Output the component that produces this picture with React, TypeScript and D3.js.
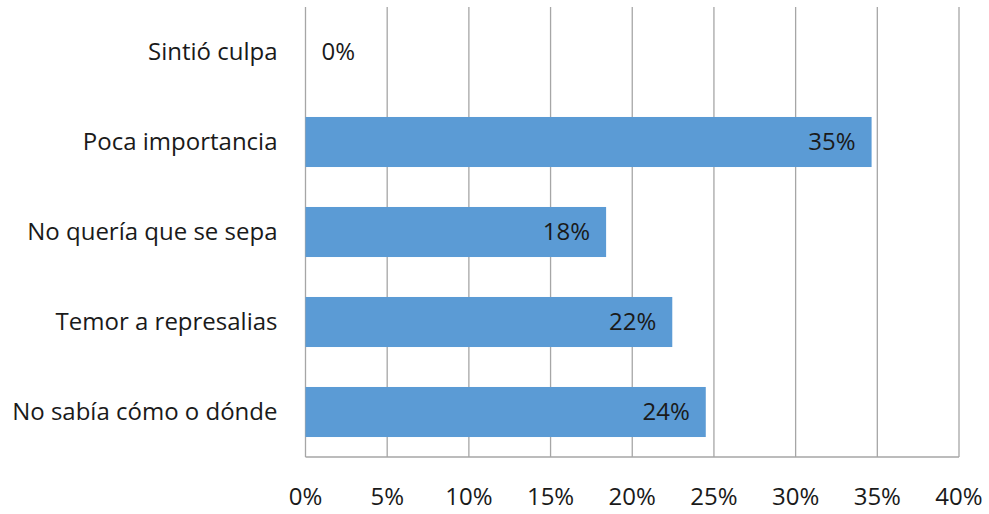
import * as d3 from "d3";

const categories = [
  "Sintió culpa",
  "Poca importancia",
  "No quería que se sepa",
  "Temor a represalias",
  "No sabía cómo o dónde",
];
const values = [0, 34.65, 18.4, 22.45, 24.5];
const valueLabels = ["0%", "35%", "18%", "22%", "24%"];
const ticks = [0, 5, 10, 15, 20, 25, 30, 35, 40];

const W = 989;
const H = 514;
const m = { top: 7, right: 30, bottom: 57, left: 305.5 };
const FONT = "'Open Sans', 'Noto Sans', sans-serif";
const FS = 24;
const BAR = "#5b9bd5";
const GRID = "#a6a6a6";
const TEXT = "#1a1a1a";

export default function App() {
  const x = d3.scaleLinear().domain([0, 40]).range([m.left, W - m.right]);
  const y = d3
    .scaleBand<string>()
    .domain(categories)
    .range([m.top, H - m.bottom])
    .paddingInner(0.444)
    .paddingOuter(0.222);
  const bottom = H - m.bottom;

  return (
    <svg
      width={W}
      height={H}
      style={{ position: "absolute", left: 0, top: 0, background: "#fff" }}
      fontFamily={FONT}
    >
      {/* grid */}
      {ticks.map((t) => (
        <line key={t} x1={x(t)} x2={x(t)} y1={m.top} y2={bottom} stroke={GRID} strokeWidth={1.3} />
      ))}
      <line x1={x(0)} x2={x(40)} y1={bottom} y2={bottom} stroke={GRID} strokeWidth={1.3} />

      {/* bars */}
      {categories.map((c, i) => (
        <g key={c}>
          {values[i] > 0 && (
            <rect x={x(0)} y={y(c)!} width={x(values[i]) - x(0)} height={y.bandwidth()} fill={BAR} />
          )}
          <text
            x={values[i] > 0 ? x(values[i]) - 16 : x(0) + 16}
            y={y(c)! + y.bandwidth() / 2}
            dy="0.35em"
            textAnchor={values[i] > 0 ? "end" : "start"}
            fontSize={FS}
            fill={TEXT}
          >
            {valueLabels[i]}
          </text>
          <text
            x={x(0) - 28}
            y={y(c)! + y.bandwidth() / 2}
            dy="0.35em"
            textAnchor="end"
            fontSize={FS}
            fill={TEXT}
          >
            {c}
          </text>
        </g>
      ))}

      {/* x tick labels */}
      {ticks.map((t) => (
        <text key={t} x={x(t)} y={bottom + 40} dy="0.35em" textAnchor="middle" fontSize={FS} fill={TEXT}>
          {`${t}%`}
        </text>
      ))}
    </svg>
  );
}
